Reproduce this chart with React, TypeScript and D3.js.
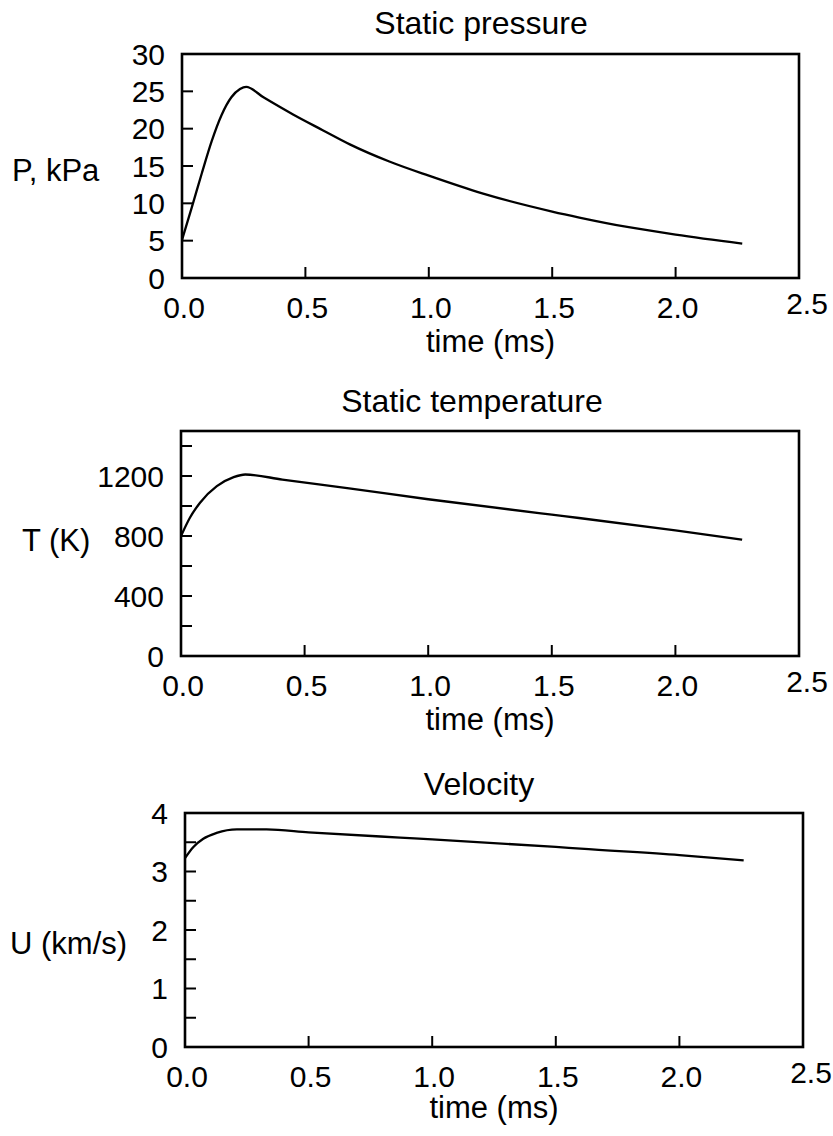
import React from "react";
import * as d3 from "d3";

// ---- data ----
const timeTickLabels = ["0.0", "0.5", "1.0", "1.5", "2.0", "2.5"];
const timeTicks = [0, 0.5, 1.0, 1.5, 2.0, 2.5];

const pressureTime = [0, 0.04, 0.08, 0.12, 0.16, 0.2, 0.235, 0.26, 0.33, 0.45, 0.57, 0.68, 0.84, 1.0, 1.22, 1.5, 1.61, 1.81, 2.0, 2.27];
const pressureValues = [5.1, 9.5, 14.0, 18.3, 21.8, 24.2, 25.3, 25.6, 24.2, 21.9, 19.8, 17.9, 15.6, 13.7, 11.3, 8.9, 8.1, 6.8, 5.8, 4.6];
const pressureTicks = [0, 5, 10, 15, 20, 25, 30];
const pressureMinor: number[] = [];

const tempTime = [0, 0.036, 0.077, 0.145, 0.213, 0.26, 0.41, 0.68, 1.0, 1.5, 1.61, 2.0, 2.27];
const tempValues = [800, 922, 1022, 1132, 1192, 1210, 1176, 1117, 1045, 942, 920, 838, 776];
const tempTicks = [0, 400, 800, 1200];
const tempMinor = [200, 600, 1000, 1400];

const velTime = [0, 0.034, 0.074, 0.128, 0.21, 0.33, 0.5, 0.87, 1.0, 1.5, 1.6, 2.0, 2.26];
const velValues = [3.23, 3.42, 3.56, 3.66, 3.72, 3.72, 3.67, 3.58, 3.55, 3.42, 3.39, 3.28, 3.19];
const velTicks = [0, 1, 2, 3, 4];
const velMinor = [0.5, 1.5, 2.5, 3.5];

const FONT = "'Liberation Sans', Arial, Helvetica, sans-serif";

type PanelProps = {
  title: string;
  yLabel: string;
  times: number[];
  values: number[];
  yMax: number;
  yTicks: number[];
  yMinor: number[];
  left: number;
  right: number;
  top: number;
  bottom: number;
  titleX: number;
  titleY: number;
  yLabelX: number;
  yLabelY: number;
  xLabelY: number;
};

function Panel(p: PanelProps) {
  const x = d3.scaleLinear().domain([0, 2.5]).range([p.left, p.right]);
  const y = d3.scaleLinear().domain([0, p.yMax]).range([p.bottom, p.top]);
  const pts = p.times.map((t, i) => [t, p.values[i]] as [number, number]);
  const line = d3
    .line<[number, number]>()
    .x((d) => x(d[0]))
    .y((d) => y(d[1]))
    .curve(d3.curveMonotoneX);
  const tickLen = 11;
  const innerY = [...p.yTicks.filter((v) => v > 0 && v < p.yMax), ...p.yMinor];
  const cx = (p.left + p.right) / 2;
  return (
    <g>
      <text x={p.titleX} y={p.titleY} textAnchor="middle" fontSize={32} fontFamily={FONT}>
        {p.title}
      </text>
      <rect
        x={p.left}
        y={p.top}
        width={p.right - p.left}
        height={p.bottom - p.top}
        fill="none"
        stroke="#000"
        strokeWidth={2.6}
      />
      {innerY.map((v, i) => (
        <line key={"yt" + i} x1={p.left} x2={p.left + tickLen} y1={y(v)} y2={y(v)} stroke="#000" strokeWidth={2} />
      ))}
      {timeTicks
        .filter((t) => t > 0 && t < 2.5)
        .map((t, i) => (
          <line key={"xt" + i} x1={x(t)} x2={x(t)} y1={p.bottom} y2={p.bottom - tickLen} stroke="#000" strokeWidth={2} />
        ))}
      {p.yTicks.map((v, i) => (
        <text
          key={"yl" + i}
          x={p.left - 17}
          y={y(v)}
          dy="0.36em"
          textAnchor="end"
          fontSize={30}
          fontFamily={FONT}
        >
          {String(v)}
        </text>
      ))}
      {timeTicks.map((t, i) => (
        <text
          key={"xl" + i}
          x={x(t) + (i === 5 ? 8 : 2)}
          y={p.bottom + (i === 5 ? 36 : 40)}
          textAnchor="middle"
          fontSize={30}
          fontFamily={FONT}
        >
          {timeTickLabels[i]}
        </text>
      ))}
      <text x={cx} y={p.xLabelY} textAnchor="middle" fontSize={31} fontFamily={FONT}>
        time (ms)
      </text>
      <text x={p.yLabelX} y={p.yLabelY} dy="0.36em" textAnchor="start" fontSize={31} fontFamily={FONT}>
        {p.yLabel}
      </text>
      <path d={line(pts) ?? ""} fill="none" stroke="#000" strokeWidth={2.3} />
    </g>
  );
}

export default function App() {
  return (
    <svg width={833} height={1136} style={{ position: "absolute", left: 0, top: 0, background: "#fff" }}>
      <rect x={0} y={0} width={833} height={1136} fill="#fff" />
      <Panel
        title="Static pressure"
        yLabel="P, kPa"
        times={pressureTime}
        values={pressureValues}
        yMax={30}
        yTicks={pressureTicks}
        yMinor={pressureMinor}
        left={182}
        right={799}
        top={54}
        bottom={278}
        titleX={481}
        titleY={34}
        yLabelX={12}
        yLabelY={170}
        xLabelY={352}
      />
      <Panel
        title="Static temperature"
        yLabel="T (K)"
        times={tempTime}
        values={tempValues}
        yMax={1500}
        yTicks={tempTicks}
        yMinor={tempMinor}
        left={181}
        right={799}
        top={431}
        bottom={656}
        titleX={472}
        titleY={412}
        yLabelX={22}
        yLabelY={540}
        xLabelY={730}
      />
      <Panel
        title="Velocity"
        yLabel="U (km/s)"
        times={velTime}
        values={velValues}
        yMax={4}
        yTicks={velTicks}
        yMinor={velMinor}
        left={185}
        right={803}
        top={813}
        bottom={1047}
        titleX={479}
        titleY={795}
        yLabelX={10}
        yLabelY={943}
        xLabelY={1118}
      />
    </svg>
  );
}
